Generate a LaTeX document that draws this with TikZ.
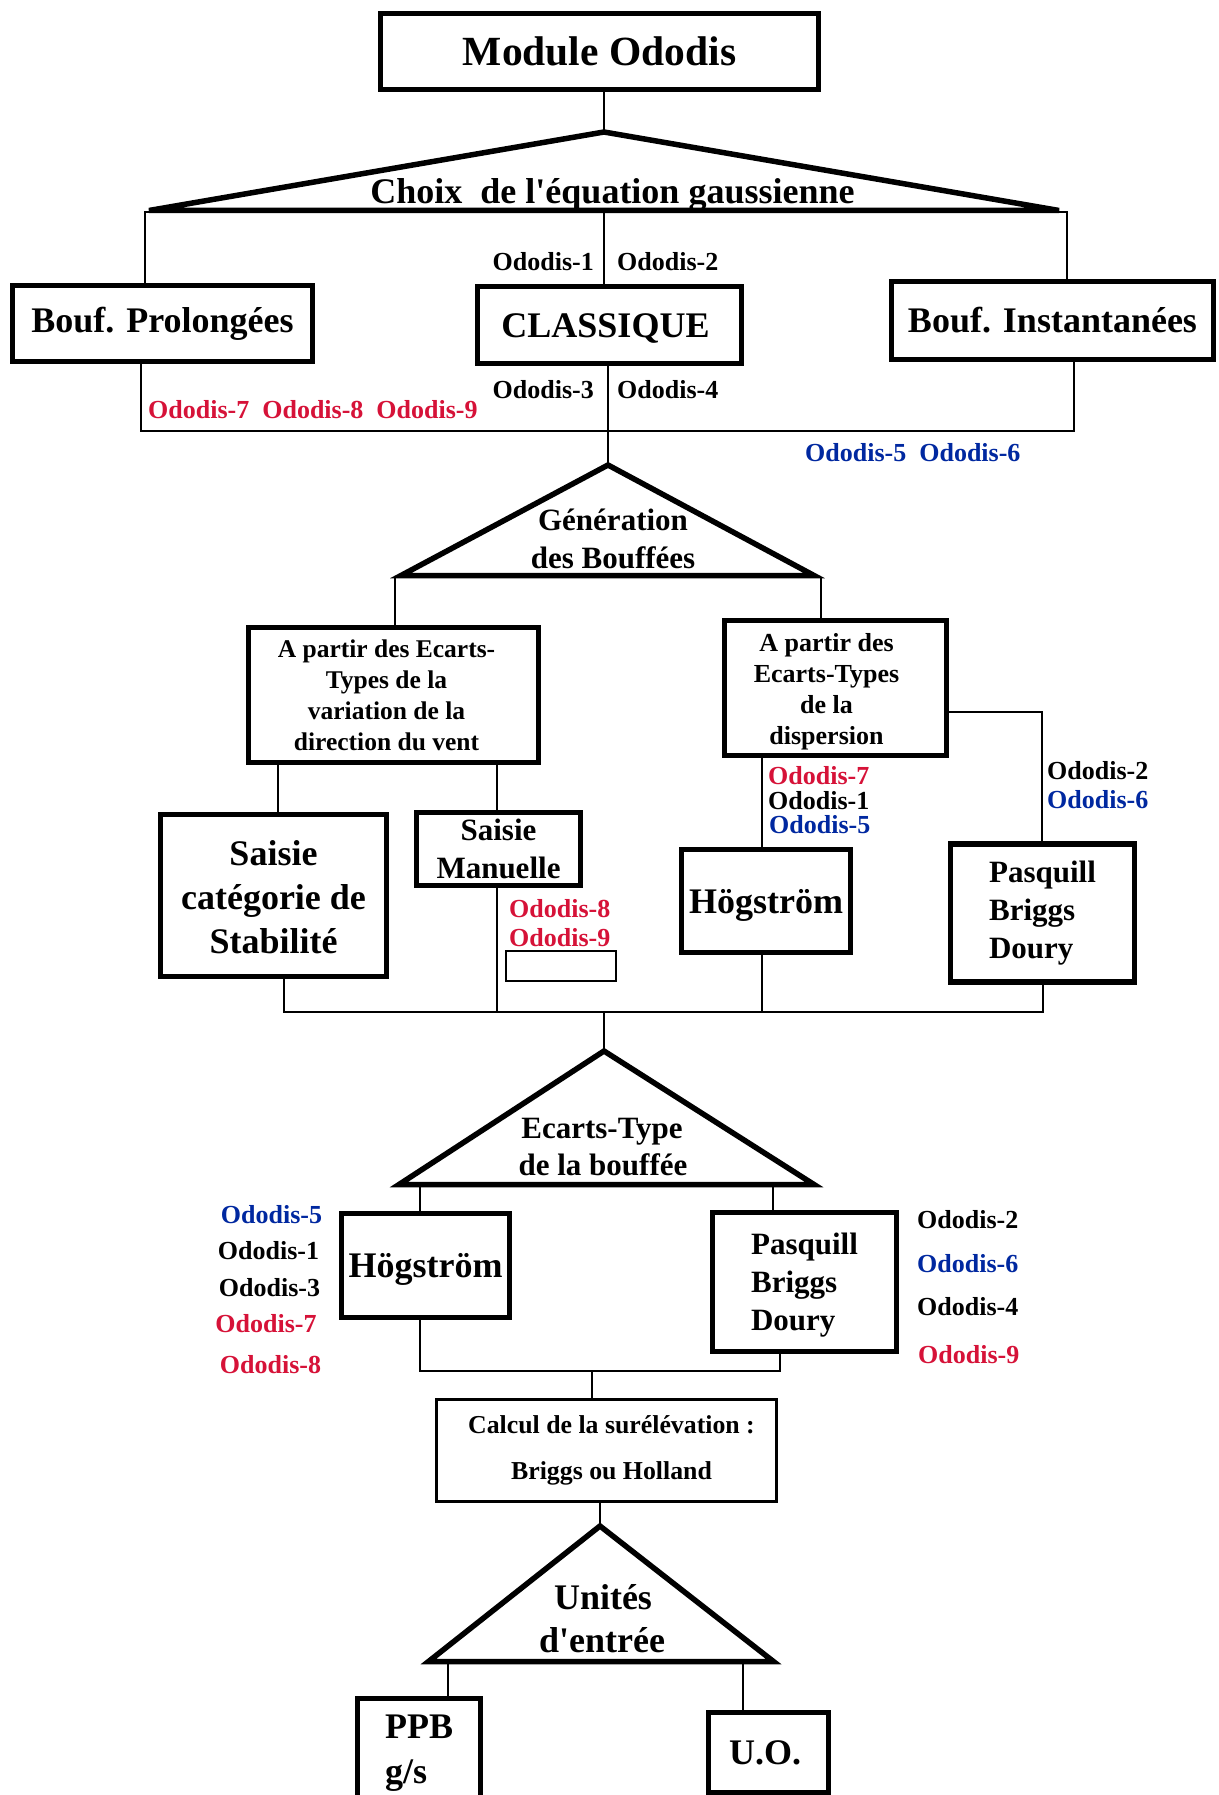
\documentclass[tikz,border=0pt]{standalone}
\usepackage{fontspec}
\setmainfont{Liberation Serif}[Ligatures=TeXOff]
\newcommand\odf[2]{\fontsize{#1}{#2}\selectfont\bfseries}
\definecolor{odred}{RGB}{214,18,56}
\definecolor{odblue}{RGB}{0,40,160}
\tikzset{
  box/.style={draw, line width=5.5pt, inner sep=0pt, align=center},
  thinbox/.style={draw, line width=3pt, inner sep=0pt, align=center},
  conn/.style={line width=2.5pt},
  tri/.style={line width=5.5pt, line join=miter},
  lab/.style={inner sep=0pt, font=\odf{26}{30}, text height=17pt, text depth=0pt},
  t36/.style={inner sep=0pt, font=\odf{36}{42}, text height=24pt, text depth=0pt},
  t31/.style={inner sep=0pt, font=\odf{31}{37}, text height=20.5pt, text depth=0pt},
  capbox/.style={text height=24pt, text depth=0pt},
  boxtext/.style={inner sep=0pt, align=center},
}
\begin{document}
\begin{tikzpicture}[x=1pt,y=-1pt]
\useasboundingbox (0,0) rectangle (1218,1795);
\clip (0,0) rectangle (1218,1795);
\fill[white] (0,0) rectangle (1218,1795);

% ---------- boxes ----------
\node[box, minimum width=438pt, minimum height=76pt, font=\odf{41.5}{48}] (mod) at (599.5,51.5) {Module Ododis};
\node[box, minimum width=300pt, minimum height=76pt, font=\odf{36}{42}] (prol) at (162.5,323.5) {Bouf. Prolongées};
\node[box, capbox, minimum width=264pt, minimum height=77pt, font=\odf{36}{42}] (clas) at (609.5,325) {CLASSIQUE\hspace*{8pt}};
\node[box, minimum width=322pt, minimum height=78pt, font=\odf{36}{42}] (inst) at (1052.5,320.5) {Bouf. Instantanées};

\node[box, minimum width=290pt, minimum height=135pt] (vent) at (393.5,695) {};
\node[boxtext, font=\odf{25.5}{31}] (ventT) at (386.5,695)
  {A partir des Ecarts-\\Types de la\\variation de la\\direction du vent};
\node[box, minimum width=222pt, minimum height=135pt] (disp) at (835.5,688) {};
\node[boxtext, font=\odf{26}{31}] (dispT) at (826.5,691.5)
  {A partir des\\Ecarts-Types\\de la\\dispersion};

\node[box, minimum width=226pt, minimum height=162pt, font=\odf{36}{44}] (stab) at (273.5,895.5)
  {\rule{0pt}{29pt}Saisie\\catégorie de\\Stabilité};
\node[box, minimum width=164pt, minimum height=73pt, font=\odf{31}{38}] (manu) at (498.5,849)
  {Saisie\\Manuelle};
\node[box, capbox, minimum width=169pt, minimum height=103pt, font=\odf{36}{42}] (hog1) at (766,901) {Högström};
\node[box, minimum width=184pt, minimum height=138pt, font=\odf{31}{38}, align=left] (pas1) at (1042.5,913)
  {Pasquill\\Briggs\\Doury};

\node[box, capbox, minimum width=168pt, minimum height=104pt, font=\odf{36}{42}] (hog2) at (425.5,1265.5) {Högström};
\node[box, minimum width=184pt, minimum height=139pt, font=\odf{31}{38}, align=left] (pas2) at (804.5,1282)
  {\rule{0pt}{28pt}Pasquill\\Briggs\\Doury};

\node[thinbox, minimum width=340pt, minimum height=102pt, font=\odf{25.8}{46}] (calc) at (606.5,1450.5)
  {\hspace*{10pt}Calcul de la surélévation :\\\hspace*{10pt}Briggs ou Holland};

\node[box, minimum width=123pt, minimum height=110pt, font=\odf{36}{45}, align=left] (ppb) at (419,1753.5) {PPB\\g/s};
\node[box, minimum width=120pt, minimum height=80pt, font=\odf{36}{42}] (uo) at (768.5,1752.5) {U.O.\hspace*{7pt}};

% ---------- triangles ----------
\coordinate (t1a) at (604,132);
\coordinate (t1l) at (149,210.5);
\coordinate (t1r) at (1059,210.5);
\draw[tri] (t1a) -- (t1r) -- (t1l) -- cycle;
\node[t36] (t1txt) at (612.5,192) {Choix\ \ de l'équation gaussienne};

\coordinate (t2a) at (608,465);
\coordinate (t2l) at (401,575.5);
\coordinate (t2r) at (814,575.5);
\draw[tri] (t2a) -- (t2r) -- (t2l) -- cycle;
\node[t31] (t2txa) at (613,520) {Génération};
\node[t31] (t2txb) at (613,558) {des Bouffées};

\coordinate (t3a) at (604,1051);
\coordinate (t3l) at (399,1184.5);
\coordinate (t3r) at (814,1184.5);
\draw[tri] (t3a) -- (t3r) -- (t3l) -- cycle;
\node[t31] (t3txa) at (602,1128) {Ecarts-Type};
\node[t31] (t3txb) at (603,1165) {de la bouffée};

\coordinate (t4a) at (600,1526);
\coordinate (t4l) at (428.5,1661.5);
\coordinate (t4r) at (773.5,1661.5);
\draw[tri] (t4a) -- (t4r) -- (t4l) -- cycle;
\node[t36] (t4txa) at (603,1597) {Unités};
\node[t36] (t4txb) at (602,1640) {d'entrée};

% small empty box
\node[draw, line width=2pt, inner sep=0pt, minimum width=110pt, minimum height=30pt] (empty) at (561,965.5) {};

% ---------- connectors ----------
\coordinate (j1l) at (145,212);
\coordinate (j1r) at (1067,212);
\coordinate (j1c) at (604,212);
\draw[conn] (mod.south -| t1a) -- (t1a);
\draw[conn] (prol.north -| j1l) -- (j1l) -- (j1r) -- (inst.north -| j1r);
\draw[conn] (j1c) -- (j1c |- clas.north);

\coordinate (j2l) at (141,431);
\coordinate (j2r) at (1074,431);
\draw[conn] (clas.south -| t2a) -- (t2a);
\draw[conn] (prol.south -| j2l) -- (j2l) -- (j2r) -- (inst.south -| j2r);

\coordinate (t2bl) at (395,577);
\coordinate (t2br) at (821,577);
\draw[conn] (t2bl) -- (t2bl |- vent.north);
\draw[conn] (t2br) -- (t2br |- disp.north);

\coordinate (j3) at (1042,712);
\draw[conn] (disp.east |- j3) -- (j3) -- (j3 |- pas1.north);

\coordinate (v1) at (278,765);
\coordinate (v2) at (497,765);
\coordinate (d1) at (762,758);
\draw[conn] (v1) -- (v1 |- stab.north);
\draw[conn] (v2) -- (v2 |- manu.north);
\draw[conn] (d1) -- (d1 |- hog1.north);

\coordinate (b1) at (284,1012);
\coordinate (b4) at (1043,1012);
\draw[conn] (b1 |- stab.south) -- (b1) -- (b4) -- (b4 |- pas1.south);
\draw[conn] (v2 |- manu.south) -- (v2 |- b1);
\draw[conn] (d1 |- hog1.south) -- (d1 |- b1);
\draw[conn] (t3a |- b1) -- (t3a);

\coordinate (e1) at (420,1187);
\coordinate (e2) at (773,1187);
\draw[conn] (e1) -- (e1 |- hog2.north);
\draw[conn] (e2) -- (e2 |- pas2.north);

\coordinate (f1) at (420,1371);
\coordinate (f2) at (780,1371);
\coordinate (f3) at (592,1371);
\draw[conn] (f1 |- hog2.south) -- (f1) -- (f2) -- (f2 |- pas2.south);
\draw[conn] (f3) -- (f3 |- calc.north);
\draw[conn] (calc.south -| t4a) -- (t4a);

\coordinate (g1) at (448,1664);
\coordinate (g2) at (743,1664);
\draw[conn] (g1) -- (g1 |- ppb.north);
\draw[conn] (g2) -- (g2 |- uo.north);

% ---------- labels ----------
\node[lab, anchor=east] (o1) at (594,262) {Ododis-1};
\node[lab, anchor=west] (o2) at (617,262) {Ododis-2};
\node[lab, anchor=east] (o3) at (594,390) {Ododis-3};
\node[lab, anchor=west] (o4) at (617,390) {Ododis-4};
\node[lab, anchor=west, text=odred] (o789) at (148,410) {Ododis-7\ \ Ododis-8\ \ Ododis-9};
\node[lab, anchor=west, text=odblue] (o56) at (805,453) {Ododis-5\ \ Ododis-6};

\node[lab, anchor=west, text=odred] (h7) at (768,776) {Ododis-7};
\node[lab, anchor=west] (h1) at (768,801) {Ododis-1};
\node[lab, anchor=west, text=odblue] (h5) at (769,825) {Ododis-5};
\node[lab, anchor=west] (p2) at (1047,771) {Ododis-2};
\node[lab, anchor=west, text=odblue] (p6) at (1047,800) {Ododis-6};

\node[lab, anchor=west, text=odred] (m8) at (509,909) {Ododis-8};
\node[lab, anchor=west, text=odred] (m9) at (509,938) {Ododis-9};

\node[lab, text=odblue] (l5) at (271.5,1215) {Ododis-5};
\node[lab] (l1) at (268.5,1251) {Ododis-1};
\node[lab] (l3) at (269.5,1288) {Ododis-3};
\node[lab, text=odred] (l7) at (266,1324) {Ododis-7};
\node[lab, text=odred] (l8) at (270.5,1365) {Ododis-8};

\node[lab, anchor=west] (r2) at (917,1220) {Ododis-2};
\node[lab, anchor=west, text=odblue] (r6) at (917,1264) {Ododis-6};
\node[lab, anchor=west] (r4) at (917,1307) {Ododis-4};
\node[lab, anchor=west, text=odred] (r9) at (918,1355) {Ododis-9};
\end{tikzpicture}
\end{document}
